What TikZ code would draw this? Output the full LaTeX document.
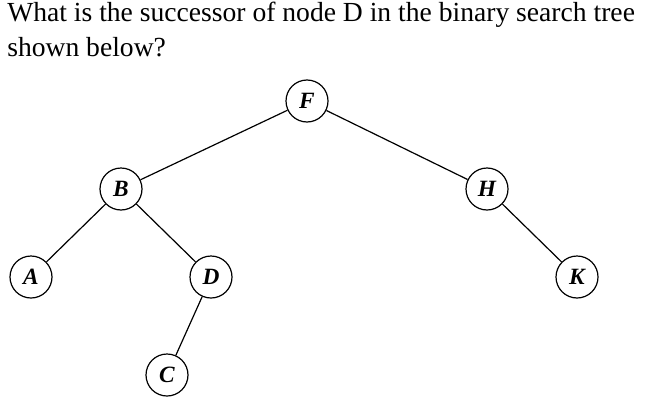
\documentclass[tikz,border=0pt]{standalone}
\usepackage{fontspec}
\setmainfont{Liberation Serif}
\begin{document}
\begin{tikzpicture}[x=0.75pt,y=-0.75pt,
  tn/.style={draw,circle,line width=0.9pt,minimum size=31.5pt,inner sep=0pt,font=\fontsize{17.5}{17.5}\selectfont\bfseries\itshape},
  ed/.style={line width=0.9pt}]
\useasboundingbox (0,0) rectangle (656,407);
\node[anchor=west,inner sep=0pt,font=\fontsize{20.7}{24}\selectfont] (t1) at (7,15) {What is the successor of node D in the binary search tree};
\node[anchor=west,inner sep=0pt,font=\fontsize{20.7}{24}\selectfont] (t2) at (7,47) {shown below?};
\node[tn] (F) at (307,101) {F};
\node[tn] (B) at (121,189) {B};
\node[tn] (H) at (487,189) {H};
\node[tn] (A) at (31,277) {A};
\node[tn] (D) at (211,277) {D};
\node[tn] (K) at (577,277) {K};
\node[tn] (C) at (167,375) {C};
\draw[ed] (F)--(B); \draw[ed] (F)--(H);
\draw[ed] (B)--(A); \draw[ed] (B)--(D);
\draw[ed] (H)--(K); \draw[ed] (D)--(C);
\end{tikzpicture}
\end{document}
